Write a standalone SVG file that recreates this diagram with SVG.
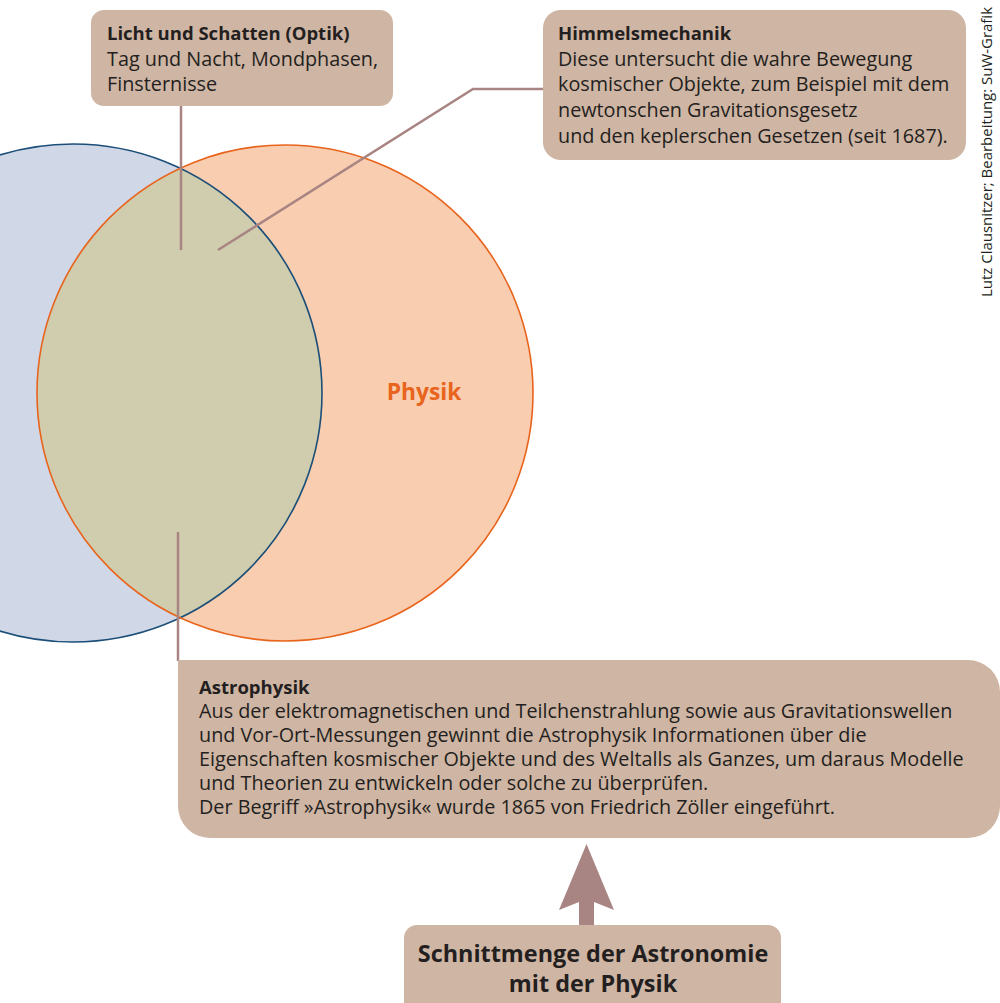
<svg xmlns="http://www.w3.org/2000/svg" width="1000" height="1003" viewBox="0 0 1000 1003">
<style>
.box{fill:#cfb5a3}
.t{font-family:"Open Sans","Liberation Sans",sans-serif;font-size:19.8px;fill:#231f20}
.b{font-weight:bold;font-size:18.5px}
.conn{stroke:#a88582;stroke-width:2.5;fill:none}
</style>
<defs>
<clipPath id="clipBlue"><circle cx="73" cy="393" r="249"/></clipPath>
</defs>
<rect width="1000" height="1003" fill="#ffffff"/>
<g id="venn">
<circle id="astronomie" cx="73" cy="393" r="249" fill="#d0d7e6"/>
<circle id="physik" cx="285" cy="393" r="248" fill="#f9cdb0"/>
<circle id="schnitt" cx="285" cy="393" r="248" fill="#d0ccae" clip-path="url(#clipBlue)"/>
<circle cx="73" cy="393" r="249" fill="none" stroke="#1b4e78" stroke-width="1.6"/>
<circle cx="285" cy="393" r="248" fill="none" stroke="#e8641c" stroke-width="1.6"/>
<text x="424" y="400" text-anchor="middle" class="t" style="font-weight:bold;font-size:22.8px;fill:#e8641c">Physik</text>
</g>
<g id="connectors">
<line class="conn" x1="181" y1="105" x2="181" y2="250"/>
<polyline class="conn" points="218,250 473,89 544,89"/>
<line class="conn" x1="178" y1="532" x2="178" y2="661"/>
<path id="arrow" d="M586.5,844 L614,910 L594,902 L594,926 L579,926 L579,902 L559,910 Z" fill="#a88582"/>
</g>
<g id="optik">
<rect class="box" x="91" y="10" width="302" height="96" rx="13"/>
<text class="t" x="107" y="40"><tspan class="b">Licht und Schatten (Optik)</tspan><tspan x="107" dy="25.5">Tag und Nacht, Mondphasen,</tspan><tspan x="107" dy="25.5">Finsternisse</tspan></text>
</g>
<g id="himmelsmechanik">
<rect class="box" x="543" y="10" width="423" height="150" rx="18"/>
<text class="t" x="558" y="40"><tspan class="b">Himmelsmechanik</tspan><tspan x="558" dy="25.7">Diese untersucht die wahre Bewegung</tspan><tspan x="558" dy="25.7">kosmischer Objekte, zum Beispiel mit dem</tspan><tspan x="558" dy="25.7">newtonschen Gravitationsgesetz</tspan><tspan x="558" dy="25.7">und den keplerschen Gesetzen (seit 1687).</tspan></text>
</g>
<g id="astrophysik">
<path class="box" d="M178,660 H968 A32,32 0 0 1 1000,692 V806 A32,32 0 0 1 968,838 H210 A32,32 0 0 1 178,806 Z"/>
<text class="t" x="199" y="694"><tspan class="b">Astrophysik</tspan><tspan x="199" dy="24">Aus der elektromagnetischen und Teilchenstrahlung sowie aus Gravitationswellen</tspan><tspan x="199" dy="24">und Vor-Ort-Messungen gewinnt die Astrophysik Informationen über die</tspan><tspan x="199" dy="24">Eigenschaften kosmischer Objekte und des Weltalls als Ganzes, um daraus Modelle</tspan><tspan x="199" dy="24">und Theorien zu entwickeln oder solche zu überprüfen.</tspan><tspan x="199" dy="24">Der Begriff »Astrophysik« wurde 1865 von Friedrich Zöller eingeführt.</tspan></text>
</g>
<g id="schnittmenge">
<path class="box" d="M404,1003 V938 A13,13 0 0 1 417,925 H768 A13,13 0 0 1 781,938 V1003 Z"/>
<text class="t" text-anchor="middle" style="font-weight:bold;font-size:23.4px"><tspan x="593" y="962">Schnittmenge der Astronomie</tspan><tspan x="593" y="992">mit der Physik</tspan></text>
</g>
<text class="t" transform="translate(992,297) rotate(-90)" style="font-size:15px" textLength="290" lengthAdjust="spacingAndGlyphs">Lutz Clausnitzer; Bearbeitung: SuW-Grafik</text>
</svg>
